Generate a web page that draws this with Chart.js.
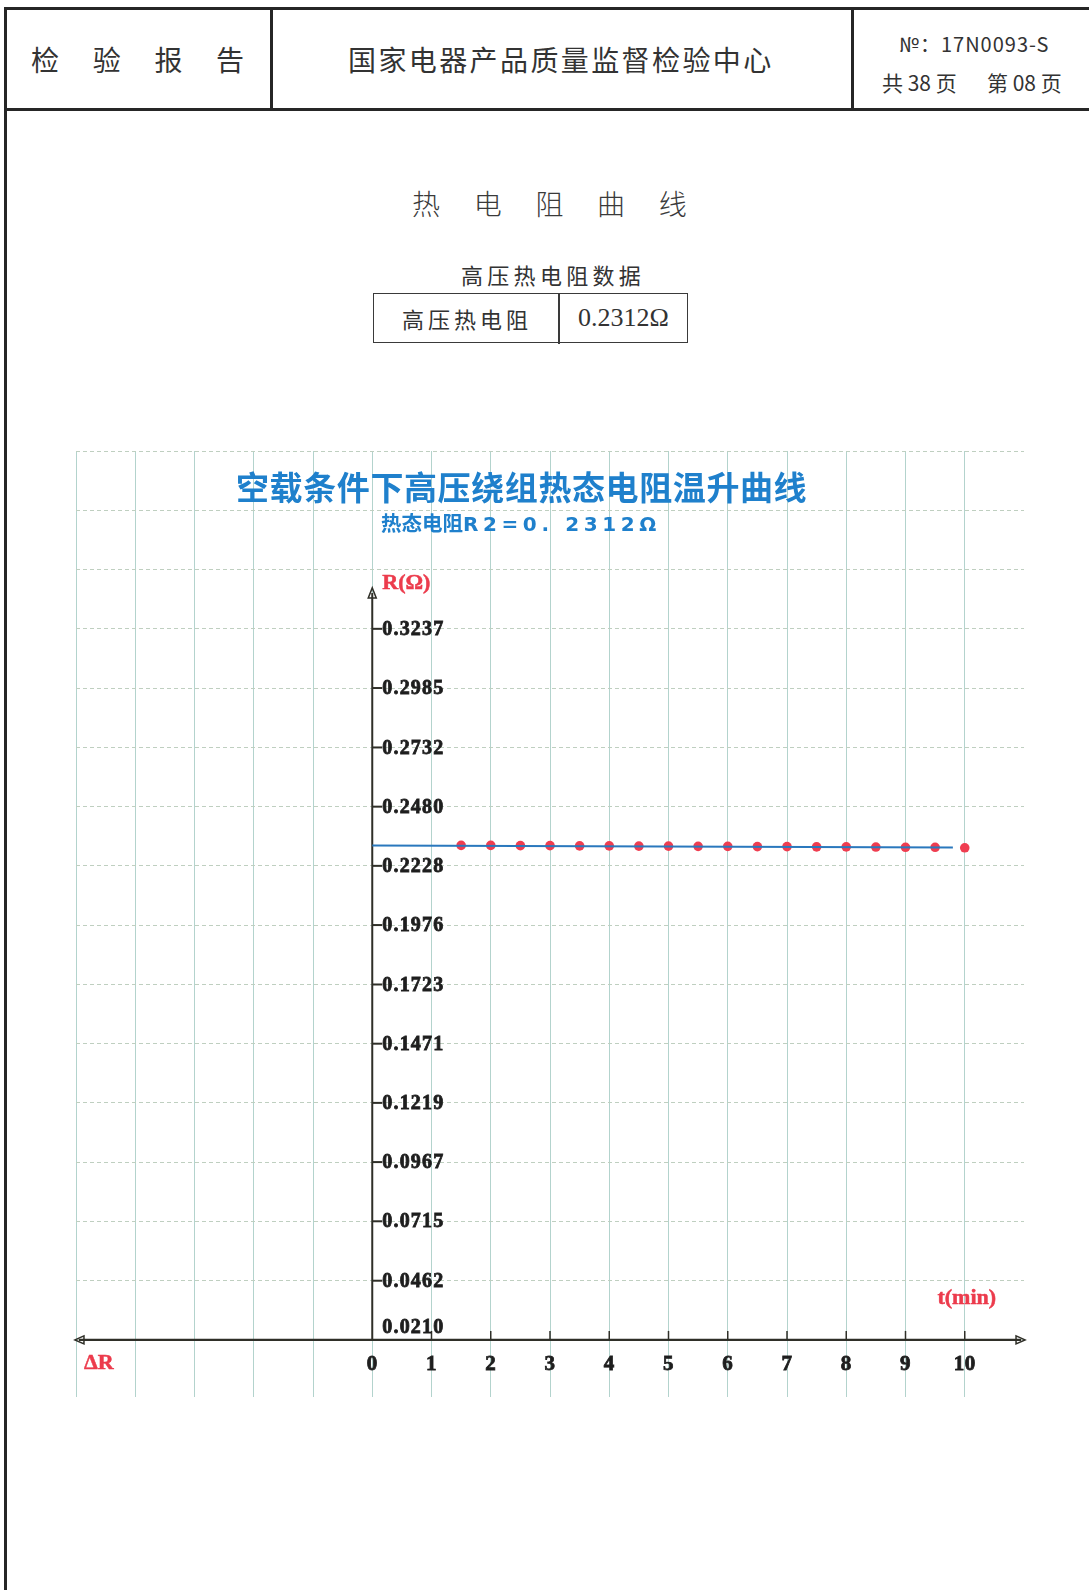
<!DOCTYPE html>
<html>
<head>
<meta charset="utf-8">
<script src="https://cdn.jsdelivr.net/npm/chart.js@4/dist/chart.umd.min.js"></script>
<style>
html,body{margin:0;padding:0;background:#fff;}
body{width:1089px;height:1590px;position:relative;overflow:hidden;font-family:"Noto Sans CJK SC",sans-serif;color:#333;}
.abs{position:absolute;white-space:nowrap;}
.ln{position:absolute;background:#262626;}
#c{position:absolute;left:0;top:430px;width:1089px;height:990px;z-index:1;}
.ctitle{z-index:2;color:#1f80cc;font-weight:700;}
</style>
</head>
<body>
<!-- header frame -->
<div class="ln" style="left:5px;top:7px;width:1084px;height:3px;"></div>
<div class="ln" style="left:5px;top:108px;width:1084px;height:3px;"></div>
<div class="ln" style="left:4px;top:7px;width:3px;height:1583px;"></div>
<div class="ln" style="left:270px;top:7px;width:3px;height:104px;"></div>
<div class="ln" style="left:851px;top:7px;width:3px;height:104px;"></div>

<div class="abs" style="left:31px;top:45px;font-size:28px;line-height:28px;letter-spacing:33.7px;">检验报告</div>
<div class="abs" style="left:348px;top:45px;font-size:28px;line-height:28px;letter-spacing:2.4px;">国家电器产品质量监督检验中心</div>
<div class="abs" style="left:899px;top:33px;font-size:20px;line-height:22px;font-family:'Liberation Sans Narrow','Noto Sans CJK SC',sans-serif;letter-spacing:1px;">№：17N0093-S</div>
<div class="abs" style="left:882px;top:71px;font-size:21px;line-height:22px;font-family:'Liberation Sans Narrow','Noto Sans CJK SC',sans-serif;">共 38 页</div>
<div class="abs" style="left:987px;top:71px;font-size:21px;line-height:22px;font-family:'Liberation Sans Narrow','Noto Sans CJK SC',sans-serif;">第 08 页</div>

<!-- page titles -->
<div class="abs" style="left:412px;top:189px;font-size:28px;line-height:28px;letter-spacing:33.7px;font-weight:300;color:#3a3a3a;">热电阻曲线</div>
<div class="abs" style="left:461px;top:263px;font-size:22px;line-height:22px;letter-spacing:4.3px;color:#333;">高压热电阻数据</div>
<div class="abs" style="left:373px;top:293px;width:313px;height:48px;border:1.5px solid #3a3a3a;"></div>
<div class="abs" style="left:558px;top:293px;width:1.5px;height:51px;background:#3a3a3a;"></div>
<div class="abs" style="left:402px;top:307px;font-size:22px;line-height:22px;letter-spacing:4px;color:#333;">高压热电阻</div>
<div class="abs" style="left:578px;top:304px;font-size:26px;line-height:28px;font-family:'Liberation Serif',serif;color:#333;">0.2312Ω</div>

<!-- chart titles (over grid) -->
<div class="abs ctitle" style="left:236px;top:468px;font-size:33px;line-height:36px;letter-spacing:0.6px;">空载条件下高压绕组热态电阻温升曲线</div>
<div class="abs ctitle" style="left:381px;top:510px;font-size:20px;line-height:24px;"><span style="font-size:20.5px;">热态电阻</span><span style="font-family:'DejaVu Sans',sans-serif;letter-spacing:4.6px;">R2=0. 2312Ω</span></div>

<canvas id="c" width="1089" height="990"></canvas>

<script>
// ---- data ----
const timeMin = [1.5, 2, 2.5, 3, 3.5, 4, 4.5, 5, 5.5, 6, 6.5, 7, 7.5, 8, 8.5, 9, 9.5, 10];
const resistance = [0.2315, 0.2315, 0.2314, 0.2314, 0.2313, 0.2313, 0.2312, 0.2312, 0.2311, 0.2311, 0.2310, 0.2310, 0.2309, 0.2309, 0.2308, 0.2307, 0.2307, 0.2305];
const fitTime = [0, 9.8];
const fitResistance = [0.2315, 0.2306];
const yTickLabels = ['0.0210','0.0462','0.0715','0.0967','0.1219','0.1471','0.1723','0.1976','0.2228','0.2480','0.2732','0.2985','0.3237'];
const yGridExtra = [0.3489, 0.3741, 0.3994];
const xTickLabels = ['0','1','2','3','4','5','6','7','8','9','10'];
const xAxisTitle = 't(min)';
const yAxisTitle = 'R(Ω)';
const deltaTitle = 'ΔR';

const yGridValues = yTickLabels.map(Number).concat(yGridExtra);
const axisY = Number(yTickLabels[0]);

function heavyText(ctx, s, px, py) {
  ctx.fillText(s, px, py);
  ctx.strokeText(s, px, py);
}

const decor = {
  id: 'decor',
  beforeDatasetsDraw(chart) {
    const {ctx, scales: {x, y}} = chart;
    const x0 = x.getPixelForValue(0);
    const ya = y.getPixelForValue(axisY);
    const xl = x.getPixelForValue(-4.95);
    const xr = x.getPixelForValue(10.95);
    const yt = y.getPixelForValue(0.339);
    ctx.save();
    ctx.strokeStyle = '#2f2f28';
    ctx.fillStyle = '#2f2f28';
    ctx.lineWidth = 2.2;
    ctx.beginPath(); ctx.moveTo(xl, ya); ctx.lineTo(xr, ya); ctx.stroke();
    ctx.lineWidth = 2;
    ctx.beginPath(); ctx.moveTo(x0, ya); ctx.lineTo(x0, yt); ctx.stroke();
    ctx.lineWidth = 1.5;
    ctx.beginPath(); ctx.moveTo(xr + 4, ya); ctx.lineTo(xr - 5, ya - 4); ctx.lineTo(xr - 5, ya + 4); ctx.closePath(); ctx.stroke();
    ctx.beginPath(); ctx.moveTo(xl - 4, ya); ctx.lineTo(xl + 5, ya - 4); ctx.lineTo(xl + 5, ya + 4); ctx.closePath(); ctx.stroke();
    ctx.beginPath(); ctx.moveTo(x0, yt - 5); ctx.lineTo(x0 - 4, yt + 5); ctx.lineTo(x0 + 4, yt + 5); ctx.closePath(); ctx.stroke();
    for (let i = 1; i < xTickLabels.length; i++) {
      const px = x.getPixelForValue(Number(xTickLabels[i]));
      ctx.beginPath(); ctx.moveTo(px, ya); ctx.lineTo(px, ya - 9); ctx.stroke();
    }
    ctx.lineWidth = 2;
    for (let i = 1; i < yTickLabels.length; i++) {
      const py = y.getPixelForValue(Number(yTickLabels[i]));
      ctx.beginPath(); ctx.moveTo(x0, py); ctx.lineTo(x0 + 10, py); ctx.stroke();
    }
    ctx.font = 'bold 20px "Liberation Serif", serif';
    ctx.letterSpacing = '1.2px';
    ctx.fillStyle = '#1e1e1e';
    ctx.strokeStyle = '#1e1e1e';
    ctx.lineWidth = 0.8;
    ctx.textAlign = 'left';
    ctx.textBaseline = 'middle';
    for (let i = 0; i < yTickLabels.length; i++) {
      let py = y.getPixelForValue(Number(yTickLabels[i]));
      if (i === 0) py -= 13;
      heavyText(ctx, yTickLabels[i], x0 + 10, py + 1);
    }
    ctx.textAlign = 'center';
    ctx.letterSpacing = '0.5px';
    ctx.font = 'bold 21px "Liberation Serif", serif';
    for (let i = 0; i < xTickLabels.length; i++) {
      const px = x.getPixelForValue(Number(xTickLabels[i]));
      heavyText(ctx, xTickLabels[i], px, ya + 25);
    }
    ctx.letterSpacing = '0px';
    ctx.fillStyle = '#ec3b4c';
    ctx.strokeStyle = '#ec3b4c';
    ctx.lineWidth = 0.5;
    ctx.font = 'bold 22px "Liberation Serif", serif';
    ctx.textAlign = 'left';
    heavyText(ctx, yAxisTitle, x0 + 10, yt - 10);
    ctx.textAlign = 'center';
    heavyText(ctx, xAxisTitle, x.getPixelForValue(10) + 2, ya - 42);
    ctx.textAlign = 'left';
    heavyText(ctx, deltaTitle, x.getPixelForValue(-5) + 8, ya + 23);
    ctx.restore();
  }
};

new Chart(document.getElementById('c'), {
  type: 'scatter',
  data: {
    datasets: [
      {
        label: 'fit',
        data: fitTime.map((t, i) => ({x: t, y: fitResistance[i]})),
        showLine: true,
        borderColor: '#2a78bd',
        borderWidth: 2,
        pointRadius: 0,
        fill: false
      },
      {
        label: 'R',
        data: timeMin.map((t, i) => ({x: t, y: resistance[i]})),
        showLine: false,
        pointRadius: 4.8,
        pointBackgroundColor: '#ef3d50',
        pointBorderWidth: 0,
        pointBorderColor: '#ef3d50'
      }
    ]
  },
  options: {
    responsive: false,
    animation: false,
    events: [],
    layout: {padding: {left: 76, right: 65, top: 21, bottom: 23}},
    plugins: {legend: {display: false}, tooltip: {enabled: false}, title: {display: false}},
    scales: {
      x: {
        type: 'linear', min: -5, max: 11,
        ticks: {display: false, stepSize: 1},
        grid: {drawTicks: false, lineWidth: 1, color: c => (c.tick && c.tick.value > 10) ? 'rgba(0,0,0,0)' : '#b3d3cd'},
        border: {display: false}
      },
      y: {
        type: 'linear', min: -0.0033, max: 0.3994,
        afterBuildTicks: s => { s.ticks = yGridValues.map(v => ({value: v})); },
        ticks: {display: false},
        grid: {drawTicks: false, lineWidth: 1, color: '#bfcfc0'},
        border: {display: false, dash: [4, 3]}
      }
    }
  },
  plugins: [decor]
});
</script>
</body>
</html>
